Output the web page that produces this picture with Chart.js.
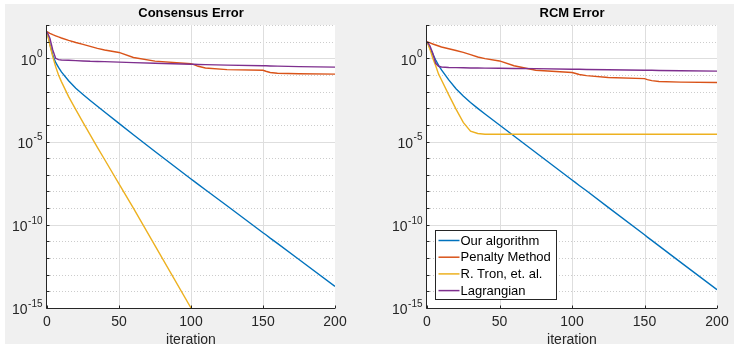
<!DOCTYPE html>
<html>
<head>
<meta charset="utf-8">
<script src="https://cdn.jsdelivr.net/npm/chart.js@4.4.1/dist/chart.umd.min.js"></script>
<style>
  html, body { margin: 0; padding: 0; background: #ffffff; }
  #fig { position: absolute; left: 5px; top: 4px; width: 729px; height: 340px; background: #f0f0f0; }
  canvas { position: absolute; top: 0; }
  #consensusChart { left: 0; }
  #rcmChart { left: 367px; }
</style>
</head>
<body>
<div id="fig"></div>
<canvas id="consensusChart" width="367" height="344"></canvas>
<canvas id="rcmChart" width="367" height="344"></canvas>
<script>
// iteration samples shared by every curve
const iterations = [0, 2, 4, 6, 8, 10, 15, 20, 25, 30, 35, 40, 50, 60, 75, 100, 102, 105, 110, 125, 150, 152, 155, 160, 175, 200];

const seriesNames = ['Our algorithm', 'Penalty Method', 'R. Tron, et. al.', 'Lagrangian'];
const seriesColors = ['#0072BD', '#D95319', '#EDB120', '#7E2F8E'];

const xTicks = [0, 50, 100, 150, 200];
const yLabelExps = [0, -5, -10, -15];
const yGridExps = [2, 1, 0, -1, -2, -3, -4, -5, -6, -7, -8, -9, -10, -11, -12, -13, -14, -15];

// Consensus Error
const consensusOurs = [3.98e1, 7.08e0, 1.58e0, 5.62e-1, 2.82e-1, 1.51e-1, 4.47e-2, 1.58e-2, 6.76e-3, 2.95e-3, 1.32e-3, 5.89e-4, 1.23e-4, 2.57e-5, 2.51e-6, 5.62e-8, 4.17e-8, 2.69e-8, 1.26e-8, 1.38e-9, 3.31e-11, 2.51e-11, 1.58e-11, 7.59e-12, 8.13e-13, 2.0e-14];
const consensusPenalty = [3.98e1, 3.16e1, 2.63e1, 2.24e1, 1.91e1, 1.66e1, 1.20e1, 8.91e0, 6.92e0, 5.25e0, 3.98e0, 3.16e0, 2.24e0, 1.12e0, 6.76e-1, 4.68e-1, 4.17e-1, 3.31e-1, 2.63e-1, 2.09e-1, 1.91e-1, 1.66e-1, 1.41e-1, 1.26e-1, 1.17e-1, 1.12e-1];
const consensusTron = [3.98e1, 6.31e0, 1.26e0, 3.16e-1, 1.0e-1, 3.98e-2, 5.01e-3, 8.32e-4, 1.41e-4, 2.51e-5, 4.47e-6, 8.32e-7, 2.82e-8, 1.0e-9, 5.62e-12, 1.0e-15, null, null, null, null, null, null, null, null, null, null];
const consensusLagrangian = [3.98e1, 1.58e1, 3.16e0, 1.0e0, 8.32e-1, 7.94e-1, 7.59e-1, 7.24e-1, 6.92e-1, 6.61e-1, 6.46e-1, 6.31e-1, 5.89e-1, 5.50e-1, 5.01e-1, 4.37e-1, 4.37e-1, 4.27e-1, 4.17e-1, 3.89e-1, 3.55e-1, 3.55e-1, 3.47e-1, 3.39e-1, 3.16e-1, 2.95e-1];

// RCM Error
const rcmOurs = [1.0e1, 4.17e0, 1.78e0, 7.94e-1, 3.80e-1, 2.0e-1, 5.01e-2, 1.48e-2, 5.37e-3, 2.19e-3, 9.77e-4, 4.47e-4, 9.77e-5, 2.14e-5, 2.19e-6, 4.90e-8, 3.63e-8, 2.29e-8, 1.10e-8, 1.10e-9, 2.51e-11, 1.82e-11, 1.15e-11, 5.37e-12, 5.50e-13, 1.26e-14];
const rcmPenalty = [1.0e1, 8.51e0, 7.24e0, 6.31e0, 5.50e0, 4.79e0, 3.72e0, 2.95e0, 2.29e0, 1.66e0, 1.20e0, 9.55e-1, 6.92e-1, 3.55e-1, 1.91e-1, 1.41e-1, 1.26e-1, 1.07e-1, 9.12e-2, 7.08e-2, 6.03e-2, 5.25e-2, 4.57e-2, 4.07e-2, 3.72e-2, 3.55e-2];
const rcmTron = [1.0e1, 3.55e0, 1.0e0, 3.55e-1, 1.12e-1, 5.01e-2, 6.31e-3, 8.91e-4, 1.41e-4, 4.17e-5, 3.02e-5, 2.75e-5, 2.75e-5, 2.75e-5, 2.75e-5, 2.75e-5, 2.75e-5, 2.75e-5, 2.75e-5, 2.75e-5, 2.75e-5, 2.75e-5, 2.75e-5, 2.75e-5, 2.75e-5, 2.75e-5];
const rcmLagrangian = [1.0e1, 5.62e0, 2.0e0, 5.01e-1, 3.31e-1, 3.02e-1, 2.82e-1, 2.75e-1, 2.69e-1, 2.63e-1, 2.63e-1, 2.57e-1, 2.51e-1, 2.45e-1, 2.40e-1, 2.19e-1, 2.19e-1, 2.19e-1, 2.14e-1, 2.04e-1, 1.91e-1, 1.91e-1, 1.91e-1, 1.86e-1, 1.78e-1, 1.70e-1];

Chart.defaults.font.family = '"Liberation Sans", Arial, sans-serif';
Chart.defaults.color = '#262626';

const axisColor = '#262626';

// white plot box, matlab style grid, inward ticks and the 10^n labels
const matlabAxes = {
    id: 'matlabAxes',
    beforeDraw(chart) {
        const ca = chart.chartArea;
        const ctx = chart.ctx;
        ctx.save();
        ctx.fillStyle = '#ffffff';
        ctx.fillRect(ca.left, ca.top, ca.right - ca.left, ca.bottom - ca.top);
        ctx.restore();
    },
    beforeDatasetsDraw(chart) {
        const ca = chart.chartArea;
        const ctx = chart.ctx;
        const xs = chart.scales.x, ys = chart.scales.y;
        ctx.save();
        ctx.lineWidth = 1;
        yGridExps.forEach(e => {
            if (e === -15) return;
            const py = Math.round(ys.getPixelForValue(Math.pow(10, e))) + 0.5;
            const major = yLabelExps.includes(e);
            ctx.strokeStyle = major ? '#dedede' : '#cccccc';
            ctx.setLineDash(major ? [] : [1, 2]);
            ctx.beginPath();
            ctx.moveTo(ca.left, py);
            ctx.lineTo(ca.right, py);
            ctx.stroke();
        });
        ctx.setLineDash([]);
        ctx.strokeStyle = '#dedede';
        xTicks.forEach(t => {
            if (t === xTicks[0] || t === xTicks[xTicks.length - 1]) return;
            const px = Math.round(xs.getPixelForValue(t)) + 0.5;
            ctx.beginPath();
            ctx.moveTo(px, ca.top);
            ctx.lineTo(px, ca.bottom);
            ctx.stroke();
        });
        ctx.restore();
    },
    afterDatasetsDraw(chart) {
        const ca = chart.chartArea;
        const ctx = chart.ctx;
        const xs = chart.scales.x, ys = chart.scales.y;
        ctx.save();
        ctx.strokeStyle = axisColor;
        ctx.lineWidth = 1;
        // axis lines (box off)
        const lx = Math.round(ca.left) - 0.5;
        const by = Math.round(ca.bottom) + 0.5;
        ctx.beginPath();
        ctx.moveTo(lx, ca.top);
        ctx.lineTo(lx, by);
        ctx.lineTo(ca.right, by);
        ctx.stroke();
        // inward ticks
        yGridExps.forEach(e => {
            const py = Math.round(ys.getPixelForValue(Math.pow(10, e))) + 0.5;
            ctx.beginPath();
            ctx.moveTo(lx, py);
            ctx.lineTo(lx + 3, py);
            ctx.stroke();
        });
        xTicks.forEach(t => {
            const px = Math.round(xs.getPixelForValue(t)) + 0.5;
            ctx.beginPath();
            ctx.moveTo(px, by);
            ctx.lineTo(px, by - 3);
            ctx.stroke();
        });
        // 10^n labels
        ctx.fillStyle = axisColor;
        ctx.textBaseline = 'middle';
        yLabelExps.forEach(e => {
            const py = ys.getPixelForValue(Math.pow(10, e));
            const expText = String(e);
            ctx.font = '10px "Liberation Sans", Arial, sans-serif';
            const ew = ctx.measureText(expText).width;
            const ex = ca.left - 4.5 - ew;
            ctx.textAlign = 'left';
            ctx.fillText(expText, ex, py - 4);
            ctx.font = '14px "Liberation Sans", Arial, sans-serif';
            ctx.textAlign = 'right';
            ctx.fillText('10', ex - 0.5, py + 2.5);
        });
        ctx.restore();
    }
};

// legend drawn inside the plot, lower left
const insideLegend = {
    id: 'insideLegend',
    afterDraw(chart) {
        const ca = chart.chartArea;
        const ctx = chart.ctx;
        const bx = Math.round(ca.left) + 8.5;
        const bw = 121;
        const bh = 69;
        const byTop = Math.round(ca.bottom) - 9 - bh + 0.5;
        ctx.save();
        ctx.fillStyle = '#ffffff';
        ctx.fillRect(bx, byTop, bw, bh);
        ctx.strokeStyle = '#262626';
        ctx.lineWidth = 1;
        ctx.strokeRect(bx, byTop, bw, bh);
        ctx.font = '13px "Liberation Sans", Arial, sans-serif';
        ctx.textBaseline = 'middle';
        ctx.textAlign = 'left';
        seriesNames.forEach((name, i) => {
            const ry = byTop + 10 + i * 16.7;
            ctx.strokeStyle = seriesColors[i];
            ctx.lineWidth = 1.5;
            ctx.beginPath();
            ctx.moveTo(bx + 3, ry);
            ctx.lineTo(bx + 24, ry);
            ctx.stroke();
            ctx.fillStyle = '#000000';
            ctx.fillText(name, bx + 25, ry + 0.5);
        });
        ctx.restore();
    }
};

function buildDatasets(values) {
    return values.map((vals, i) => ({
        label: seriesNames[i],
        data: iterations.map((it, k) => ({ x: it, y: vals[k] })),
        borderColor: seriesColors[i],
        backgroundColor: seriesColors[i],
        borderWidth: 1.4,
        pointRadius: 0,
        tension: 0,
        fill: false,
        order: values.length - i
    }));
}

function createChart(canvasId, title, values, padLeft, padRight, extraPlugins) {
    const ctx = document.getElementById(canvasId).getContext('2d');
    return new Chart(ctx, {
        type: 'line',
        data: { datasets: buildDatasets(values) },
        options: {
            responsive: false,
            animation: false,
            devicePixelRatio: 1,
            layout: { padding: { left: padLeft, right: padRight, top: 0, bottom: 0 } },
            plugins: {
                legend: { display: false },
                tooltip: { enabled: false },
                title: {
                    display: true,
                    text: title,
                    color: '#000000',
                    font: { size: 13, weight: 'bold', lineHeight: 1.2 },
                    padding: { top: 6, bottom: 3.4 }
                }
            },
            scales: {
                x: {
                    type: 'linear',
                    min: 0,
                    max: 200,
                    afterBuildTicks: s => { s.ticks = xTicks.map(v => ({ value: v })); },
                    afterFit: s => { s.height = 36; s.paddingLeft = 0; s.paddingRight = 0; },
                    grid: { display: false, drawTicks: false },
                    border: { display: false },
                    ticks: { font: { size: 14 }, color: axisColor, padding: 6, maxRotation: 0 },
                    title: {
                        display: true,
                        text: 'iteration',
                        color: axisColor,
                        font: { size: 14, lineHeight: 1 },
                        padding: { top: 0, bottom: -3 }
                    }
                },
                y: {
                    type: 'logarithmic',
                    min: 1e-15,
                    max: 1e2,
                    afterFit: s => { s.width = 0; },
                    grid: { display: false, drawTicks: false },
                    border: { display: false },
                    ticks: { display: false }
                }
            }
        },
        plugins: [matlabAxes].concat(extraPlugins)
    });
}

createChart('consensusChart', 'Consensus Error',
    [consensusOurs, consensusPenalty, consensusTron, consensusLagrangian], 47, 32, []);
createChart('rcmChart', 'RCM Error',
    [rcmOurs, rcmPenalty, rcmTron, rcmLagrangian], 60, 17, [insideLegend]);
</script>
</body>
</html>
